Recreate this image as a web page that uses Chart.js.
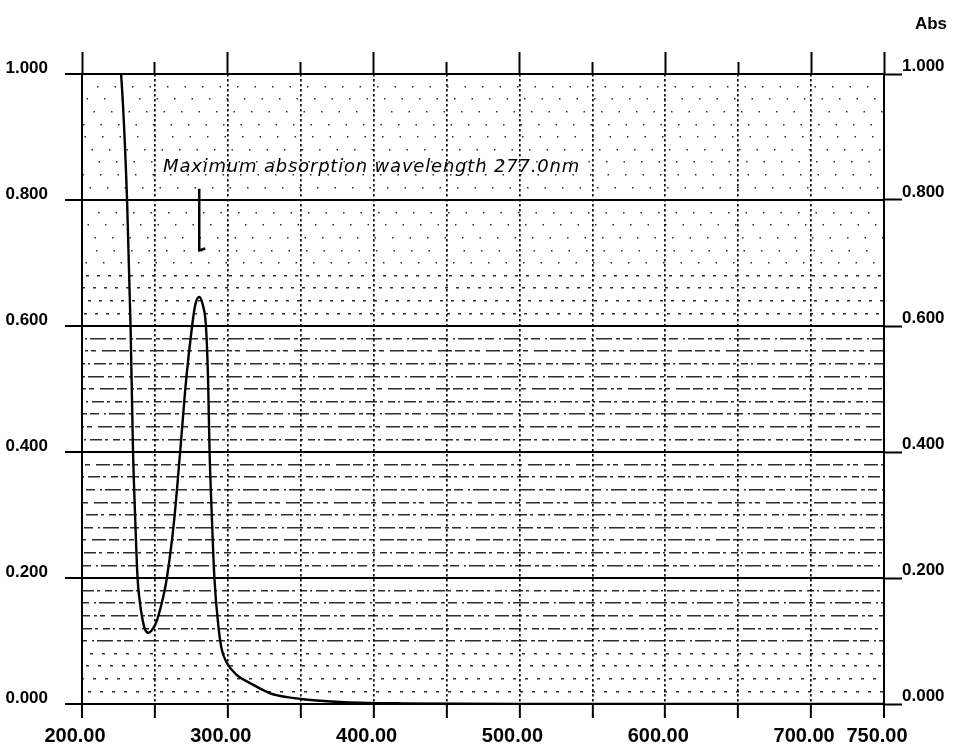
<!DOCTYPE html>
<html>
<head>
<meta charset="utf-8">
<title>Abs spectrum</title>
<script src="https://cdn.jsdelivr.net/npm/chart.js@4.4.1/dist/chart.umd.min.js"></script>
<style>
  html, body { margin: 0; padding: 0; background: #fff; }
  canvas { display: block; }
</style>
</head>
<body>
<canvas id="specChart" width="958" height="750"></canvas>
<script>
// Spektrum serapan
const wavelength = [222, 226.8, 230.9, 233.3, 235.0, 236.4, 238.1, 239.5, 241.6, 243.3, 245.3,
    247.5, 250.8, 255.8, 258.2, 263.2, 267.3, 271.4, 275.5, 277.6, 280.4,
    283.0, 285.0, 286.4, 287.5, 289.0, 290.8, 293.6, 295.9, 299.4, 306.2,
    315.4, 329.1, 340.6, 358.7, 380, 420, 500, 600, 700, 750];
const absorbance = [1.08, 1.0, 0.8, 0.6, 0.4, 0.3, 0.2, 0.165, 0.133, 0.118, 0.113,
    0.116, 0.129, 0.171, 0.2, 0.292, 0.4, 0.514, 0.6, 0.633, 0.646,
    0.632, 0.6, 0.52, 0.4, 0.3, 0.2, 0.122, 0.086, 0.065, 0.046,
    0.033, 0.017, 0.011, 0.006, 0.003, 0.001, 0, 0, 0, 0];

const xMin = 200, xMax = 750, xStep = 50;
const xLabelValues = [200, 300, 400, 500, 600, 700, 750];
const yMin = 0, yMax = 1, yMinorStep = 0.02, yMajorStep = 0.2;

const peakNm = 280.4;
const noteText = 'Maximum absorption wavelength 277.0nm';
const notePos = [255.6, 0.844];

const FONT = "'Liberation Sans', Arial, sans-serif";

// pola garis putus-putus (gaya grid minor)
const densePatterns = [
    [7, 3, 2, 4, 12, 3, 3, 5],
    [10, 4, 3, 3, 5, 6, 14, 3],
    [4, 3, 9, 5, 2, 3, 16, 4]
];

function isMajorY(v) {
    return Math.abs(v / yMajorStep - Math.round(v / yMajorStep)) < 1e-6;
}
function isFrameX(v) {
    return v === xMin || v === xMax;
}
function minorDash(v, i) {
    if (v >= 0.7) return [1.5, 16];
    if (v > 0.6) return [3, 8];
    if (v > 0.08) return densePatterns[i % 3];
    return [3, 9];
}

// Catatan puncak serapan + panah
const peakNote = {
    id: 'peakNote',
    afterDatasetsDraw(chart) {
        const { ctx, scales: { x, y } } = chart;
        ctx.save();
        ctx.fillStyle = '#000';
        ctx.font = "italic 18px 'DejaVu Sans'";
        ctx.letterSpacing = '0.8px';
        ctx.textBaseline = 'alphabetic';
        ctx.fillText(noteText, x.getPixelForValue(notePos[0]), y.getPixelForValue(notePos[1]));
        const ax = x.getPixelForValue(peakNm);
        ctx.strokeStyle = '#000';
        ctx.lineWidth = 2.5;
        ctx.beginPath();
        ctx.moveTo(ax, y.getPixelForValue(0.818));
        ctx.lineTo(ax, y.getPixelForValue(0.72));
        ctx.lineTo(ax + 6, y.getPixelForValue(0.723));
        ctx.stroke();
        ctx.restore();
    }
};

const specCtx = document.getElementById('specChart').getContext('2d');
new Chart(specCtx, {
    type: 'line',
    data: {
        datasets: [{
            label: 'Abs',
            data: wavelength.map((w, i) => ({ x: w, y: absorbance[i] })),
            borderColor: '#000',
            borderWidth: 2.4,
            pointRadius: 0,
            fill: false,
            cubicInterpolationMode: 'monotone'
        }]
    },
    options: {
        responsive: false,
        animation: false,
        layout: { padding: { top: 0, right: 11, bottom: 0, left: 0 } },
        plugins: {
            legend: { display: false },
            tooltip: { enabled: false },
            title: {
                display: true,
                text: 'Abs',
                align: 'end',
                color: '#000',
                font: { family: FONT, size: 17, weight: 'bold', lineHeight: 1.2 },
                padding: { top: 14, bottom: 17.6 }
            }
        },
        scales: {
            x: {
                type: 'linear',
                position: 'bottom',
                min: xMin,
                max: xMax,
                afterFit: s => { s.height = 46; },
                ticks: {
                    stepSize: xStep,
                    autoSkip: false,
                    maxRotation: 0,
                    padding: 6,
                    labelOffset: -7,
                    color: '#000',
                    font: { family: FONT, size: 20, weight: 'bold' },
                    callback: v => xLabelValues.includes(v) ? v.toFixed(2) : ''
                },
                grid: {
                    color: c => isFrameX(c.tick.value) ? '#000' : '#111',
                    lineWidth: c => isFrameX(c.tick.value) ? 2 : 1.7,
                    tickLength: 14,
                    tickColor: '#000',
                    tickWidth: 2
                },
                border: {
                    display: true,
                    color: '#000',
                    width: 2,
                    dash: c => (c.tick && !isFrameX(c.tick.value)) ? [2.5, 2.5] : []
                }
            },
            xTopLong: {
                type: 'linear',
                position: 'top',
                weight: 10,
                min: xMin,
                max: xMax,
                afterFit: s => { s.height = 10; },
                ticks: { display: false, stepSize: xStep, autoSkip: false },
                grid: {
                    drawOnChartArea: false,
                    tickLength: 10,
                    tickWidth: 2,
                    tickColor: c => (c.tick.value % 100 === 0 || c.tick.value === xMax) ? '#000' : 'rgba(0,0,0,0)'
                },
                border: { display: false }
            },
            xTop: {
                type: 'linear',
                position: 'top',
                weight: 0,
                min: xMin,
                max: xMax,
                afterFit: s => { s.height = 12; },
                ticks: { display: false, stepSize: xStep, autoSkip: false },
                grid: {
                    drawOnChartArea: false,
                    tickLength: 12,
                    tickWidth: 2,
                    tickColor: '#000'
                },
                border: { display: false }
            },
            y: {
                position: 'left',
                min: yMin,
                max: yMax,
                afterFit: s => { s.width = 82; },
                ticks: {
                    stepSize: yMinorStep,
                    autoSkip: false,
                    padding: 17,
                    labelOffset: -6,
                    color: '#000',
                    font: { family: FONT, size: 17, weight: 'bold' },
                    callback: v => isMajorY(v) ? v.toFixed(3) : ''
                },
                grid: {
                    color: c => isMajorY(c.tick.value) ? '#000' : 'rgba(0,0,0,0.82)',
                    lineWidth: c => isMajorY(c.tick.value) ? 2 : 1.5,
                    tickLength: 17,
                    tickWidth: 2,
                    tickColor: c => isMajorY(c.tick.value) ? '#000' : 'rgba(0,0,0,0)'
                },
                border: {
                    display: true,
                    color: '#000',
                    width: 2,
                    dash: c => (c.tick && !isMajorY(c.tick.value)) ? minorDash(c.tick.value, c.index) : [],
                    dashOffset: c => c.tick ? (c.index * 7) % 23 : 0
                }
            },
            yRight: {
                position: 'right',
                min: yMin,
                max: yMax,
                afterFit: s => { s.width = 63; },
                ticks: {
                    stepSize: yMajorStep,
                    padding: 0,
                    labelOffset: -8,
                    color: '#000',
                    font: { family: FONT, size: 17, weight: 'bold' },
                    callback: v => v.toFixed(3)
                },
                grid: {
                    drawOnChartArea: false,
                    tickLength: 18,
                    tickWidth: 2,
                    tickColor: '#000'
                },
                border: { display: true, color: '#000', width: 2 }
            }
        }
    },
    plugins: [peakNote]
});
</script>
</body>
</html>
